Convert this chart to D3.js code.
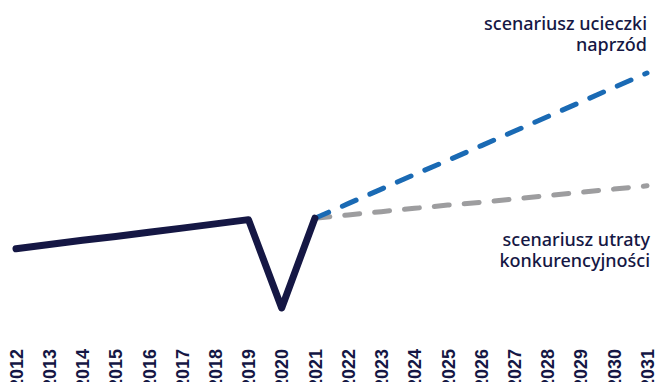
<!DOCTYPE html>
<html lang="pl">
<head>
  <meta charset="UTF-8">
  <script src="https://d3js.org/d3.v7.min.js"></script>
  <style>
    body {
      margin: 0;
      padding: 0;
      background: #fff;
      overflow: hidden;
    }
    .tick text {
      font-family: "Liberation Sans", Arial, sans-serif;
      font-weight: bold;
      font-size: 18px;
      fill: #151744;
    }
    .note {
      font-family: "Noto Sans", "Open Sans", sans-serif;
      font-weight: 500;
      font-size: 18px;
      fill: #151744;
    }
  </style>
</head>
<body>
  <div id="chart"></div>
  <script>
    const width = 655, height = 382;

    // data (index values)
    const years = [2012, 2013, 2014, 2015, 2016, 2017, 2018, 2019, 2020, 2021,
                   2022, 2023, 2024, 2025, 2026, 2027, 2028, 2029, 2030, 2031];
    const histYears = [2012, 2013, 2014, 2015, 2016, 2017, 2018, 2019, 2020, 2021];
    const histValues = [92.6, 93.5, 94.4, 95.2, 96.1, 97.0, 97.9, 98.8, 80.0, 99.1];
    const projYears = [2021, 2022, 2023, 2024, 2025, 2026, 2027, 2028, 2029, 2030, 2031];
    const escapeValues = [99.1, 102.2, 105.3, 108.4, 111.4, 114.5, 117.6, 120.7, 123.8, 126.9, 130.0];
    const lossValues = [99.1, 99.8, 100.5, 101.2, 101.9, 102.5, 103.2, 103.9, 104.6, 105.3, 106.0];
    const escapeLabel = ["scenariusz ucieczki", "naprzód"];
    const lossLabel = ["scenariusz utraty", "konkurencyjności"];

    const svg = d3.select("#chart")
      .append("svg")
      .attr("width", width)
      .attr("height", height);

    const x = d3.scalePoint()
      .domain(years)
      .range([16, 647]);

    const y = d3.scaleLinear()
      .domain([80, 130])
      .range([308, 73]);

    const line = d3.line()
      .x(d => x(d[0]))
      .y(d => y(d[1]));

    // projections first, history on top
    svg.append("path")
      .datum(d3.zip(projYears, lossValues))
      .attr("d", line)
      .attr("fill", "none")
      .attr("stroke", "#9d9d9f")
      .attr("stroke-width", 5)
      .attr("stroke-linecap", "round")
      .attr("stroke-dasharray", "15 15");

    svg.append("path")
      .datum(d3.zip(projYears, escapeValues))
      .attr("d", line)
      .attr("fill", "none")
      .attr("stroke", "#1a6ab4")
      .attr("stroke-width", 5)
      .attr("stroke-linecap", "round")
      .attr("stroke-dasharray", "15 15");

    svg.append("path")
      .datum(d3.zip(histYears, histValues))
      .attr("d", line)
      .attr("fill", "none")
      .attr("stroke", "#151744")
      .attr("stroke-width", 7)
      .attr("stroke-linecap", "round")
      .attr("stroke-linejoin", "round");

    // x axis with vertical labels (bottom of them runs off the page, as in the original)
    const axis = svg.append("g")
      .attr("transform", "translate(0,349)")
      .call(d3.axisBottom(x).tickSize(0).tickFormat(d3.format("d")));
    axis.select(".domain").remove();
    axis.selectAll(".tick text")
      .attr("transform", "rotate(-90)")
      .attr("text-anchor", "end")
      .attr("x", 0)
      .attr("y", 0)
      .attr("dy", "0.35em");

    // scenario labels
    svg.append("text")
      .attr("class", "note")
      .attr("text-anchor", "end")
      .selectAll("tspan")
      .data(escapeLabel)
      .join("tspan")
      .attr("x", 647)
      .attr("y", (d, i) => 30 + i * 21)
      .text(d => d);

    svg.append("text")
      .attr("class", "note")
      .attr("text-anchor", "end")
      .selectAll("tspan")
      .data(lossLabel)
      .join("tspan")
      .attr("x", 650)
      .attr("y", (d, i) => 246 + i * 21)
      .text(d => d);
  </script>
</body>
</html>
